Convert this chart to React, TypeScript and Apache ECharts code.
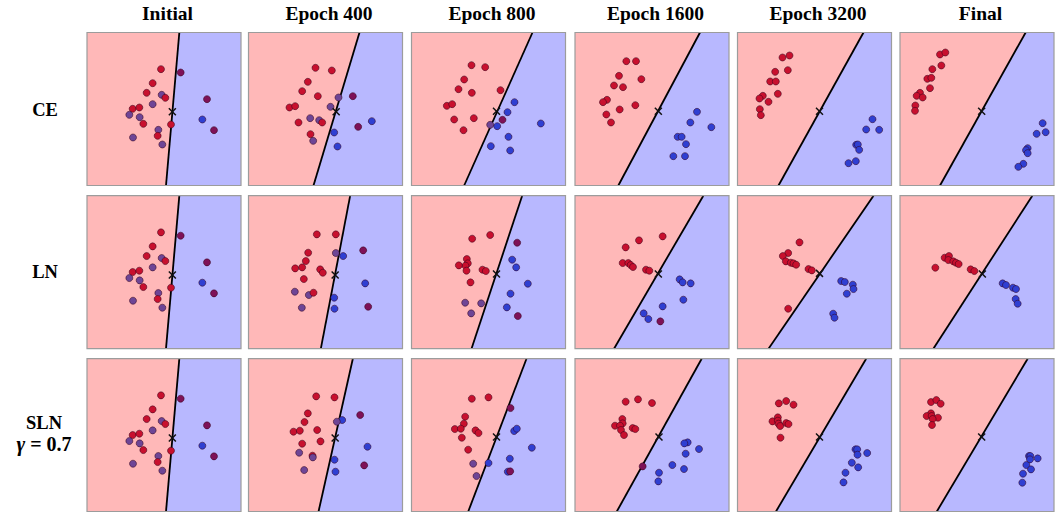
import React, { useEffect, useRef } from "react";
import * as echarts from "echarts";

// ---------- labels ----------
const COLUMN_TITLES = ["Initial", "Epoch 400", "Epoch 800", "Epoch 1600", "Epoch 3200", "Final"];
const ROW_LABELS = ["CE", "LN", "SLN"];
const ROW_SUBLABEL = "γ = 0.7";

// ---------- data (feature-space units, y measured downward) ----------
type Pt = [number, number, string];
const initialPts: Pt[] = [[222,110,"r"],[281,120,"m"],[197,152,"r"],[179,181,"r"],[224,187,"p"],[235,196,"r"],[360,200,"m"],[197,215,"p"],[137,229,"r"],[157,225,"r"],[127,247,"p"],[158,254,"p"],[346,261,"b"],[169,274,"r"],[252,276,"r"],[214,292,"p"],[381,293,"m"],[138,315,"p"],[212,310,"r"],[226,336,"p"]];

const ceEp400: Pt[] = [[201,106,"r"],[250,114,"r"],[178,148,"r"],[161,176,"r"],[208,191,"r"],[270,195,"p"],[313,191,"m"],[123,225,"r"],[140,221,"r"],[246,223,"p"],[185,257,"p"],[212,263,"p"],[221,270,"r"],[150,270,"r"],[370,266,"b"],[329,283,"m"],[257,300,"b"],[186,305,"r"],[194,325,"p"],[267,342,"b"]];
const ceEp800: Pt[] = [[180,98,"r"],[221,104,"r"],[158,141,"r"],[141,170,"r"],[181,181,"r"],[267,173,"r"],[309,209,"b"],[106,220,"r"],[122,215,"r"],[288,239,"b"],[128,261,"r"],[187,257,"r"],[273,262,"m"],[236,277,"p"],[257,281,"b"],[388,273,"b"],[156,293,"r"],[291,313,"b"],[238,341,"b"],[296,354,"b"]];
const ceEp1600: Pt[] = [[154,86,"r"],[183,86,"r"],[132,130,"r"],[199,140,"r"],[117,159,"r"],[144,164,"r"],[96,202,"r"],[84,209,"r"],[181,218,"r"],[134,231,"r"],[94,246,"r"],[108,270,"r"],[366,238,"b"],[346,270,"b"],[409,284,"b"],[308,313,"b"],[320,313,"b"],[333,335,"b"],[295,371,"b"],[330,371,"b"]];
const ceEp3200: Pt[] = [[135,75,"r"],[156,69,"r"],[113,118,"r"],[151,113,"r"],[98,147,"r"],[115,147,"r"],[121,184,"r"],[76,190,"r"],[66,198,"r"],[93,208,"r"],[67,230,"r"],[70,248,"r"],[405,260,"b"],[386,291,"b"],[425,292,"b"],[356,337,"b"],[361,336,"b"],[365,352,"b"],[355,386,"b"],[333,392,"b"]];
const ceFinal: Pt[] = [[120,66,"r"],[136,60,"r"],[97,110,"r"],[124,99,"r"],[82,139,"r"],[94,136,"r"],[90,167,"r"],[60,181,"r"],[50,190,"r"],[68,195,"r"],[46,219,"r"],[45,235,"r"],[428,272,"b"],[410,304,"b"],[437,299,"b"],[383,347,"b"],[378,353,"b"],[383,362,"b"],[370,394,"b"],[355,403,"b"]];

const lnEp400: Pt[] = [[205,116,"r"],[262,116,"r"],[179,171,"r"],[262,172,"p"],[284,181,"b"],[344,164,"m"],[172,196,"r"],[140,218,"r"],[161,215,"r"],[215,221,"r"],[223,231,"r"],[166,250,"r"],[350,263,"b"],[139,288,"p"],[181,298,"p"],[195,291,"r"],[257,306,"b"],[160,336,"p"],[258,339,"b"],[359,333,"m"]];
const lnEp800: Pt[] = [[182,129,"r"],[236,118,"r"],[166,190,"r"],[169,203,"r"],[162,210,"r"],[142,209,"r"],[165,225,"r"],[213,222,"r"],[223,226,"r"],[177,260,"r"],[317,141,"m"],[302,192,"b"],[314,215,"b"],[349,264,"b"],[297,294,"b"],[161,321,"p"],[209,323,"p"],[179,353,"p"],[286,335,"b"],[319,361,"m"]];
const lnEp1600: Pt[] = [[263,122,"r"],[192,134,"r"],[152,155,"r"],[143,202,"r"],[160,202,"r"],[167,208,"r"],[174,214,"r"],[213,222,"r"],[223,225,"r"],[314,251,"b"],[323,260,"b"],[347,263,"b"],[325,312,"b"],[263,332,"b"],[206,353,"b"],[220,370,"b"],[256,377,"m"]];
const lnEp3200: Pt[] = [[186,140,"r"],[152,172,"r"],[136,181,"r"],[145,197,"r"],[160,201,"r"],[168,203,"r"],[176,207,"r"],[213,220,"r"],[223,224,"r"],[152,339,"r"],[311,256,"b"],[322,259,"b"],[346,267,"b"],[348,280,"b"],[328,294,"b"],[287,354,"b"],[291,366,"b"]];
const lnFinal: Pt[] = [[106,216,"r"],[134,186,"r"],[147,181,"r"],[145,193,"r"],[160,197,"r"],[168,201,"r"],[176,205,"r"],[212,221,"r"],[223,226,"r"],[308,263,"b"],[318,268,"b"],[339,276,"b"],[348,280,"b"],[347,310,"b"],[353,324,"b"]];

const slnEp400: Pt[] = [[203,113,"r"],[258,116,"r"],[178,164,"r"],[168,190,"r"],[335,169,"m"],[281,184,"b"],[265,189,"p"],[135,219,"r"],[154,216,"r"],[206,214,"r"],[161,255,"r"],[216,248,"r"],[357,264,"b"],[152,282,"p"],[192,291,"r"],[193,296,"p"],[258,303,"b"],[347,320,"m"],[167,334,"p"],[261,339,"b"]];
const slnEp800: Pt[] = [[181,120,"r"],[231,116,"r"],[161,174,"r"],[157,195,"r"],[130,211,"r"],[148,210,"r"],[192,215,"r"],[201,223,"r"],[151,237,"r"],[170,273,"r"],[297,148,"m"],[308,217,"b"],[316,210,"b"],[361,267,"b"],[295,300,"b"],[231,313,"b"],[185,315,"p"],[289,339,"b"],[296,338,"m"],[195,352,"p"]];
const slnEp1600: Pt[] = [[152,129,"r"],[189,122,"r"],[231,133,"r"],[142,181,"r"],[143,194,"r"],[120,201,"r"],[135,201,"r"],[138,214,"r"],[147,229,"r"],[173,208,"r"],[181,211,"r"],[203,323,"m"],[338,251,"b"],[328,254,"b"],[372,271,"b"],[332,285,"b"],[292,319,"b"],[327,331,"b"],[252,342,"b"],[250,368,"b"]];
const slnEp3200: Pt[] = [[124,134,"r"],[146,127,"r"],[168,138,"r"],[121,176,"r"],[105,188,"r"],[121,186,"r"],[123,195,"r"],[128,202,"r"],[146,193,"r"],[153,196,"r"],[129,237,"r"],[354,272,"b"],[359,272,"b"],[389,283,"b"],[360,288,"b"],[343,312,"b"],[362,326,"b"],[324,342,"b"],[318,371,"b"]];
const slnFinal: Pt[] = [[93,130,"r"],[109,124,"r"],[122,135,"r"],[93,164,"r"],[80,172,"r"],[95,172,"r"],[114,177,"r"],[98,181,"r"],[96,199,"r"],[387,292,"b"],[391,292,"b"],[413,299,"b"],[390,302,"b"],[379,319,"b"],[393,332,"b"],[369,345,"b"],[367,372,"b"]];

const POINTS: Pt[][][] = [
  [initialPts, ceEp400, ceEp800, ceEp1600, ceEp3200, ceFinal],
  [initialPts, lnEp400, lnEp800, lnEp1600, lnEp3200, lnFinal],
  [initialPts, slnEp400, slnEp800, slnEp1600, slnEp3200, slnFinal],
];

// decision boundary: x where it crosses the top edge and the bottom edge
const ceBoundary = [[277,237],[333,195],[363,158],[375,130],[378,123],[377,120]];
const lnBoundary = [[277,237],[305,217],[332,180],[385,117],[408,93],[397,100]];
const slnBoundary = [[277,237],[313,210],[345,170],[380,125],[386,115],[383,110]];
const BOUNDARIES = [ceBoundary, lnBoundary, slnBoundary];

// origin marker (x)
const ceOrigin = [[256,238],[263,238],[255,236],[250,236],[246,236],[245,236]];
const lnOrigin = [[256,238],[260,238],[255,235],[250,235],[246,233],[247,235]];
const slnOrigin = [[256,238],[260,238],[255,235],[252,235],[246,235],[245,235]];
const ORIGINS = [ceOrigin, lnOrigin, slnOrigin];

const X_MAX = 462;
const Y_MAX = 459;

// ---------- styling / layout ----------
const COL_LEFT = [87, 248.5, 411.5, 575, 737.5, 900];
const ROW_TOP = [32.5, 195.7, 358.7];
const GRID_W = 154;
const GRID_H = 153;
const PINK = "#ffb8b8";
const LAVENDER = "#b8b8ff";
const DOT_COLORS: Record<string, string> = {
  r: "#c8102e",
  b: "#2f3fd2",
  p: "#6e4596",
  m: "#7e1158",
};
const FONT = "'Liberation Serif', 'Times New Roman', serif";

function buildOption() {
  const grid: any[] = [];
  const xAxis: any[] = [];
  const yAxis: any[] = [];
  const series: any[] = [];
  let gi = 0;
  for (let r = 0; r < 3; r++) {
    for (let c = 0; c < 6; c++) {
      grid.push({ left: COL_LEFT[c], top: ROW_TOP[r], width: GRID_W, height: GRID_H, show: false });
      xAxis.push({ type: "value", gridIndex: gi, min: 0, max: X_MAX, show: false });
      yAxis.push({ type: "value", gridIndex: gi, min: 0, max: Y_MAX, inverse: true, show: false });
      series.push({
        type: "custom",
        xAxisIndex: gi,
        yAxisIndex: gi,
        z: 1,
        silent: true,
        data: [BOUNDARIES[r][c]],
        renderItem: (params: any, api: any) => {
          const cs = params.coordSys;
          const pTop = api.coord([api.value(0), 0]);
          const pBot = api.coord([api.value(1), Y_MAX]);
          const x0 = cs.x, y0 = cs.y, x1 = cs.x + cs.width, y1 = cs.y + cs.height;
          return {
            type: "group",
            children: [
              { type: "rect", shape: { x: x0, y: y0, width: cs.width, height: cs.height }, style: { fill: PINK } },
              { type: "polygon", shape: { points: [[pTop[0], y0], [x1, y0], [x1, y1], [pBot[0], y1]] }, style: { fill: LAVENDER } },
              { type: "line", shape: { x1: pTop[0], y1: y0, x2: pBot[0], y2: y1 }, style: { stroke: "#000", lineWidth: 1.8 } },
              { type: "rect", shape: { x: x0, y: y0, width: cs.width, height: cs.height }, style: { fill: "none", stroke: "#9c9c9c", lineWidth: 1.2 } },
            ],
          };
        },
      });
      series.push({
        type: "scatter",
        xAxisIndex: gi,
        yAxisIndex: gi,
        z: 3,
        symbolSize: 7,
        silent: true,
        data: POINTS[r][c].map((p) => ({
          value: [p[0], p[1]],
          itemStyle: { color: DOT_COLORS[p[2]], opacity: 1, borderColor: "rgba(50,0,25,0.75)", borderWidth: 0.7 },
        })),
      });
      series.push({
        type: "custom",
        xAxisIndex: gi,
        yAxisIndex: gi,
        z: 4,
        silent: true,
        data: [ORIGINS[r][c]],
        renderItem: (_params: any, api: any) => {
          const p = api.coord([api.value(0), api.value(1)]);
          const s = 3.5;
          return {
            type: "group",
            children: [
              { type: "line", shape: { x1: p[0] - s, y1: p[1] - s, x2: p[0] + s, y2: p[1] + s }, style: { stroke: "#111", lineWidth: 1.5 } },
              { type: "line", shape: { x1: p[0] - s, y1: p[1] + s, x2: p[0] + s, y2: p[1] - s }, style: { stroke: "#111", lineWidth: 1.5 } },
            ],
          };
        },
      });
      gi++;
    }
  }

  const graphic: any[] = [];
  COLUMN_TITLES.forEach((t, c) => {
    graphic.push({
      type: "text",
      x: COL_LEFT[c] + GRID_W / 2 + 3.5,
      y: 13.5,
      style: { text: t, font: `bold 19.5px ${FONT}`, fill: "#000", textAlign: "center", textVerticalAlign: "middle" },
    });
  });
  const rowCenters = [110, 272];
  ROW_LABELS.slice(0, 2).forEach((t, r) => {
    graphic.push({
      type: "text",
      x: 45,
      y: rowCenters[r],
      style: { text: t, font: `bold 18.5px ${FONT}`, fill: "#000", textAlign: "center", textVerticalAlign: "middle" },
    });
  });
  graphic.push({
    type: "text",
    x: 44,
    y: 423,
    style: { text: ROW_LABELS[2], font: `bold 18.5px ${FONT}`, fill: "#000", textAlign: "center", textVerticalAlign: "middle" },
  });
  graphic.push({
    type: "text",
    x: 44,
    y: 444,
    style: {
      text: ROW_SUBLABEL.replace("γ", "{g|γ}"),
      font: `bold 20px ${FONT}`,
      fill: "#000",
      textAlign: "center",
      textVerticalAlign: "middle",
      rich: { g: { fontStyle: "italic", fontWeight: "bold", fontSize: 21, fontFamily: FONT } },
    },
  });

  return { animation: false, backgroundColor: "#fff", grid, xAxis, yAxis, series, graphic };
}

export default function App() {
  const ref = useRef<HTMLDivElement>(null);
  useEffect(() => {
    const chart = echarts.init(ref.current!, null, { renderer: "svg" });
    chart.setOption(buildOption());
    return () => chart.dispose();
  }, []);
  return (
    <div
      ref={ref}
      style={{ position: "absolute", left: 0, top: 0, width: 1055, height: 512, background: "#fff" }}
    />
  );
}
